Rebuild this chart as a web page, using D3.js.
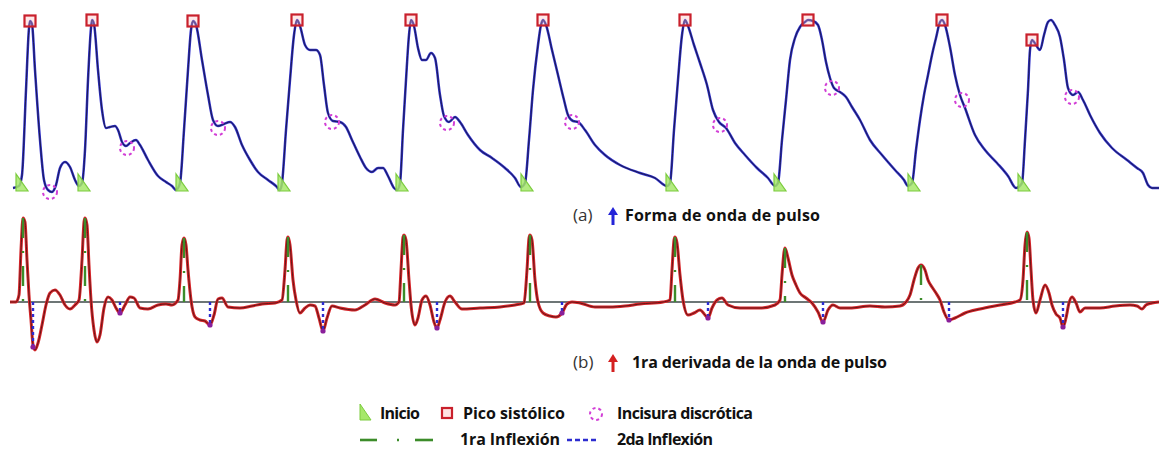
<!DOCTYPE html>
<html>
<head>
<meta charset="utf-8">
<script src="https://cdn.jsdelivr.net/npm/d3@7"></script>
<style>
  html, body { margin: 0; padding: 0; background: #fff; }
  svg { display: block; }
  text { font-family: "Open Sans", Lato, sans-serif; }
</style>
</head>
<body>
<svg id="chart" width="1159" height="450"></svg>
<script>
// Pulse waveform: [sample, amplitude]
const pulseWave = [
  [13,2],[19,4],[22,15],[26,100],[29,162],[30,169],[32,166],[35,120],[40,50],[44,10],[48,0],[52,-2],[56,5],[60,22],[65,28],[70,23],[75,10],[79,4],[82,7],
  [85,40],[88,110],[91,162],[92,170],[94,166],[98,120],[102,80],[106,62],[110,63],[115,64],[118,60],[122,48],[126,44],[130,47],[136,50],[140,45],[148,30],[158,14],[166,8],[172,4],[176,0],[180,7],
  [184,60],[188,120],[191,160],[193,169],[196,165],[202,130],[208,95],[213,70],[218,64],[224,66],[230,68],[235,63],[242,45],[250,30],[258,18],[268,10],[276,4],[280,0],[282,7],
  [286,60],[290,110],[294,155],[297,170],[300,164],[305,145],[310,140],[316,140],[320,135],[324,105],[328,77],[333,69],[340,68],[346,63],[352,50],[360,33],[366,22],[372,18],[378,22],[383,22],[388,14],[394,2],[397,0],[400,7],
  [403,60],[406,110],[409,155],[411,170],[414,164],[418,142],[422,130],[426,130],[431,137],[435,132],[440,95],[444,74],[449,68],[455,73],[460,68],[468,55],[480,40],[492,32],[505,22],[515,12],[521,3],[525,7],
  [529,50],[533,100],[538,145],[541,165],[543,170],[546,165],[552,140],[558,115],[564,90],[568,75],[573,69],[578,68],[585,60],[595,45],[605,35],[620,25],[640,17],[655,12],[667,4],[670,7],
  [674,60],[678,110],[682,155],[685,170],[688,164],[694,145],[700,127],[707,105],[713,80],[719,68],[726,62],[735,47],[745,35],[757,22],[768,12],[775,4],[778,7],
  [782,50],[786,90],[790,130],[795,152],[800,163],[805,168],[808,170],[813,169],[818,165],[822,150],[826,128],[830,112],[834,102],[840,98],[846,93],[852,83],[860,70],[870,50],[882,35],[895,20],[904,10],[908,4],[912,7],
  [916,40],[920,70],[924,95],[928,115],[932,135],[936,152],[940,168],[942,170],[945,165],[950,143],[955,115],[960,95],[965,82],[975,55],[985,40],[997,27],[1008,14],[1016,2],[1022,7],
  [1025,50],[1028,100],[1030,140],[1032,150],[1036,145],[1040,140],[1044,155],[1048,168],[1051,170],[1055,165],[1060,153],[1064,130],[1068,102],[1073,95],[1078,98],[1083,90],[1090,75],[1100,57],[1112,42],[1127,30],[1137,22],[1143,17],[1148,5],[1152,2],[1159,2]
];

// First derivative of the pulse waveform: [sample, value]
const firstDerivative = [
  [10,0],[16,0],[19,7],[21,52],[23,84],[25,80],[27,42],[29,7],[31,-18],[33,-43],[35,-48],[38,-41],[42,-23],[46,-3],[50,9],[55,12],[60,7],[65,-3],[70,-7],[75,-3],[79,2],
  [82,42],[84,80],[85,84],[87,77],[89,37],[91,2],[94,-28],[97,-40],[100,-33],[104,-6],[108,5],[112,2],[116,-6],[120,-11],[125,-3],[130,5],[134,4],[140,-6],[148,-7],[158,-3],[166,-2],[172,-3],[178,2],
  [180,22],[182,57],[184,64],[186,57],[188,32],[191,2],[195,-15],[200,-18],[205,-19],[210,-23],[214,-13],[218,3],[222,4],[228,-5],[240,-6],[252,-4],[262,-2],[275,-1],[282,2],
  [285,32],[287,62],[288,65],[290,57],[293,22],[296,2],[300,-11],[305,-6],[310,-3],[315,-4],[319,-16],[323,-29],[327,-16],[332,-4],[340,-6],[355,-8],[365,-3],[375,3],[385,-1],[395,-3],[399,0],
  [401,32],[403,65],[404,67],[406,62],[409,22],[411,-3],[415,-23],[418,-16],[422,2],[426,6],[430,-3],[434,-20],[437,-26],[440,-18],[445,0],[450,6],[455,0],[462,-7],[480,-6],[500,-5],[515,-3],[524,-1],
  [527,32],[529,64],[530,67],[532,62],[535,22],[538,0],[543,-11],[550,-14],[556,-15],[562,-11],[567,-2],[572,0],[580,-1],[595,-5],[610,-5],[625,-4],[640,-2],[663,0],[670,2],
  [672,32],[674,62],[675,65],[677,59],[680,27],[683,2],[688,-13],[694,-11],[700,-8],[705,-13],[708,-16],[712,-6],[717,2],[722,4],[728,-3],[740,-6],[760,-6],[775,-3],[780,2],
  [782,27],[784,50],[785,54],[788,44],[792,27],[796,17],[800,9],[806,4],[812,-1],[818,-10],[823,-20],[828,-8],[833,-3],[840,-6],[850,-6],[870,-4],[885,-5],[900,-4],[906,0],
  [910,7],[914,22],[918,34],[921,37],[925,32],[928,22],[932,15],[936,9],[940,2],[944,-10],[949,-18],[955,-16],[965,-11],[980,-7],[1000,-3],[1015,0],[1020,2],
  [1023,22],[1025,57],[1027,70],[1029,64],[1031,32],[1033,2],[1036,-11],[1040,2],[1045,17],[1049,9],[1052,-3],[1056,-12],[1060,-16],[1063,-25],[1066,-16],[1069,-1],[1072,5],[1076,-1],[1080,-10],[1085,-6],[1100,-6],[1115,-4],[1130,-3],[1137,-4],[1142,-7],[1146,-3],[1152,-1],[1159,0]
];

// Detected fiducial points on the pulse waveform
const onsetTimes = [20, 82, 180, 282, 400, 525, 670, 778, 912, 1022];
const onsetAmp   = [7, 7, 7, 7, 7, 7, 7, 7, 7, 7];
const peakTimes  = [30, 92, 193, 297, 411, 543, 685, 808, 942, 1032];
const peakAmp    = [169, 170, 169, 170, 170, 170, 170, 170, 170, 150];
const notchTimes = [50, 127, 218, 332, 447, 572, 720, 832, 962, 1072];
const notchAmp   = [-2, 42, 62, 68, 67, 68, 65, 102, 90, 93];

// Inflection points on the first derivative
const inflex1Times = [23, 85, 184, 288, 404, 530, 675, 785, 921, 1027];
const inflex1Amp   = [84, 84, 64, 65, 67, 67, 65, 54, 37, 70];
const inflex2Times = [33, 120, 210, 323, 437, 562, 708, 823, 949, 1063];
const inflex2Amp   = [-45, -11, -23, -29, -26, -11, -16, -20, -18, -25];

// Caption and legend labels
const captionA = ["(a)", "Forma de onda de pulso"];
const captionB = ["(b)", "1ra derivada de la onda de pulso"];
const legendRow1 = ["Inicio", "Pico sistólico", "Incisura discrótica"];
const legendRow2 = ["1ra Inflexión", "2da Inflexión"];

const svg = d3.select("#chart");

const x = d3.scaleLinear().domain([0, 1159]).range([0, 1159]);
const yTop = d3.scaleLinear().domain([0, 170]).range([190, 20]);
const yBot = d3.scaleLinear().domain([-50, 90]).range([352, 212]);

const C = {
  blue: "#2f2fc8", blueCore: "#1b1b50",
  red: "#d6262b", redCore: "#551414",
  green: "#3c8c2a", tri: "#a6e86a", triStroke: "#7ccc3e",
  square: "#c9202c", notch: "#d23fd6", dot2: "#2c2cd0", trough: "#8a1f9a",
  base: "#3d4848"
};

// ---- Panel (a): pulse waveform ----
const lineTop = d3.line().x(d => x(d[0])).y(d => yTop(d[1])).curve(d3.curveMonotoneX);
svg.append("path").datum(pulseWave).attr("d", lineTop)
  .attr("fill", "none").attr("stroke", C.blue).attr("stroke-width", 2.5).attr("stroke-linejoin", "round");
svg.append("path").datum(pulseWave).attr("d", lineTop)
  .attr("fill", "none").attr("stroke", C.blueCore).attr("stroke-width", 1).attr("stroke-linejoin", "round");

const triPath = (cx, cy) => `M${cx - 4},${cy - 9}L${cx - 4},${cy + 8}L${cx + 8},${cy + 8}Z`;

svg.append("g").selectAll("path").data(onsetTimes).join("path")
  .attr("d", (t, i) => triPath(x(t), yTop(onsetAmp[i])))
  .attr("fill", C.tri).attr("fill-opacity", 0.85)
  .attr("stroke", C.triStroke).attr("stroke-width", 1.2);

svg.append("g").selectAll("rect").data(peakTimes).join("rect")
  .attr("x", (t) => x(t) - 5.5).attr("y", (t, i) => yTop(peakAmp[i]) - 5.5)
  .attr("width", 11).attr("height", 11)
  .attr("fill", "rgba(255,190,190,0.35)").attr("stroke", C.square).attr("stroke-width", 2.2);

svg.append("g").selectAll("circle").data(notchTimes).join("circle")
  .attr("cx", t => x(t)).attr("cy", (t, i) => yTop(notchAmp[i]))
  .attr("r", 7).attr("fill", "none")
  .attr("stroke", C.notch).attr("stroke-width", 2).attr("stroke-dasharray", "3,3");

// ---- Panel (b): first derivative ----
svg.append("line")
  .attr("x1", x(10)).attr("x2", x(1159)).attr("y1", yBot(0)).attr("y2", yBot(0))
  .attr("stroke", C.base).attr("stroke-width", 1.6);

const lineBot = d3.line().x(d => x(d[0])).y(d => yBot(d[1])).curve(d3.curveMonotoneX);
svg.append("path").datum(firstDerivative).attr("d", lineBot)
  .attr("fill", "none").attr("stroke", C.red).attr("stroke-width", 3).attr("stroke-linejoin", "round");
svg.append("path").datum(firstDerivative).attr("d", lineBot)
  .attr("fill", "none").attr("stroke", C.redCore).attr("stroke-width", 0.9).attr("stroke-linejoin", "round");

// 1st inflection: dash-dot green line from the peak down to the baseline
svg.append("g").selectAll("line").data(inflex1Times).join("line")
  .attr("x1", t => x(t)).attr("x2", t => x(t))
  .attr("y1", (t, i) => yBot(inflex1Amp[i])).attr("y2", yBot(0))
  .attr("stroke", C.green).attr("stroke-width", 2.4).attr("stroke-dasharray", "20,13,2,13");

// 2nd inflection: dotted blue line from the baseline down to the trough
svg.append("g").selectAll("line").data(inflex2Times).join("line")
  .attr("x1", t => x(t)).attr("x2", t => x(t))
  .attr("y1", yBot(0)).attr("y2", (t, i) => yBot(inflex2Amp[i]))
  .attr("stroke", C.dot2).attr("stroke-width", 2.4).attr("stroke-dasharray", "3,3");
svg.append("g").selectAll("circle").data(inflex2Times).join("circle")
  .attr("cx", t => x(t)).attr("cy", (t, i) => yBot(inflex2Amp[i]))
  .attr("r", 2.6).attr("fill", C.trough);

// ---- Text helper ----
function label(g, str, xPos, yPos, width, bold) {
  const t = g.append("text")
    .attr("x", xPos).attr("y", yPos)
    .attr("font-size", bold ? 16 : 17)
    .attr("font-weight", bold ? "bold" : "normal")
    .attr("fill", bold ? "#111" : "#333")
    .text(str);
  if (width) t.attr("textLength", width).attr("lengthAdjust", "spacing");
  return t;
}

// ---- Captions ----
function arrow(g, cx, top, bottom, color) {
  g.append("path")
    .attr("d", `M${cx},${top}L${cx + 5},${top + 8}L${cx + 1.5},${top + 8}L${cx + 1.5},${bottom}L${cx - 1.5},${bottom}L${cx - 1.5},${top + 8}L${cx - 5},${top + 8}Z`)
    .attr("fill", color);
}
const cap = svg.append("g");
label(cap, captionA[0], 573, 221, null, false);
arrow(cap, 613, 207, 225, "#2424d8");
label(cap, captionA[1], 625, 221, 195, true);
label(cap, captionB[0], 573, 368, null, false);
arrow(cap, 613, 354, 372, "#d42020");
label(cap, captionB[1], 632, 368, 255, true);

// ---- Legend ----
const lg = svg.append("g");
const r1 = 419, r2 = 445;
lg.append("path").attr("d", `M360,${r1 - 15}L360,${r1 + 1}L371,${r1 + 1}Z`)
  .attr("fill", C.tri).attr("stroke", C.triStroke).attr("stroke-width", 1);
label(lg, legendRow1[0], 380, r1, 40, true);
lg.append("rect").attr("x", 442).attr("y", r1 - 11).attr("width", 10).attr("height", 10)
  .attr("fill", "rgba(255,200,200,0.5)").attr("stroke", C.square).attr("stroke-width", 2.2);
label(lg, legendRow1[1], 463, r1, 102, true);
lg.append("circle").attr("cx", 596).attr("cy", r1 - 5).attr("r", 6)
  .attr("fill", "none").attr("stroke", C.notch).attr("stroke-width", 2).attr("stroke-dasharray", "3,3");
label(lg, legendRow1[2], 617, r1, 136, true);

lg.append("line").attr("x1", 360).attr("x2", 377).attr("y1", r2 - 5).attr("y2", r2 - 5)
  .attr("stroke", C.green).attr("stroke-width", 2.6);
lg.append("line").attr("x1", 397).attr("x2", 399).attr("y1", r2 - 5).attr("y2", r2 - 5)
  .attr("stroke", C.green).attr("stroke-width", 2.6);
lg.append("line").attr("x1", 415).attr("x2", 433).attr("y1", r2 - 5).attr("y2", r2 - 5)
  .attr("stroke", C.green).attr("stroke-width", 2.6);
label(lg, legendRow2[0], 460, r2, 100, true);
lg.append("line").attr("x1", 567).attr("x2", 596).attr("y1", r2 - 5).attr("y2", r2 - 5)
  .attr("stroke", C.dot2).attr("stroke-width", 2.4).attr("stroke-dasharray", "5,3");
label(lg, legendRow2[1], 617, r2, 96, true);
</script>
</body>
</html>
